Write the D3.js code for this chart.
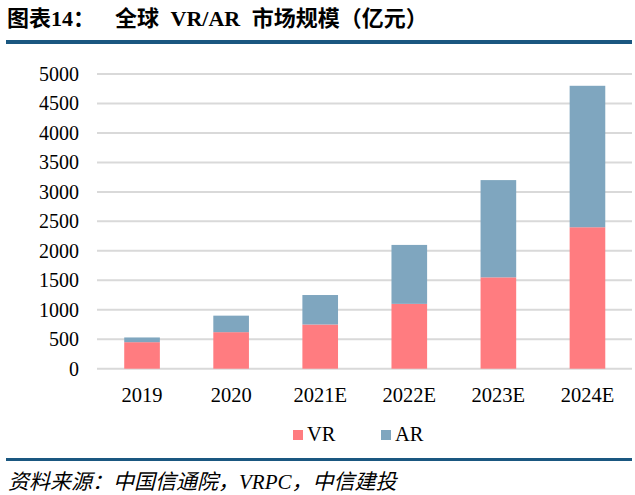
<!DOCTYPE html>
<html>
<head>
<meta charset="utf-8">
<script src="https://cdn.jsdelivr.net/npm/d3@7"></script>
<style>
  body { margin: 0; background: #fff; }
  svg { display: block; }
  text { font-family: "Liberation Serif", "Noto Sans CJK SC", serif; fill: #000; }
</style>
</head>
<body>
<svg id="chart" width="635" height="495"></svg>
<script>
var years = ["2019", "2020", "2021E", "2022E", "2023E", "2024E"],
    vr = [450, 620, 750, 1100, 1550, 2400],
    ar = [80, 280, 500, 1000, 1650, 2400],
    yTicks = [0, 500, 1000, 1500, 2000, 2500, 3000, 3500, 4000, 4500, 5000],
    seriesNames = ["VR", "AR"],
    seriesColors = ["#ff7c80", "#7fa6bf"];

var svg = d3.select("#chart");

// title and rules
svg.append("text")
    .attr("x", 7)
    .attr("y", 26)
    .attr("font-size", 22)
    .attr("font-weight", "bold")
    .text("图表14：");
svg.append("text")
    .attr("x", 115)
    .attr("y", 26)
    .attr("font-size", 22)
    .attr("font-weight", "bold")
    .attr("word-spacing", 6)
    .text("全球 VR/AR 市场规模（亿元）");
svg.append("rect")
    .attr("x", 6).attr("y", 40)
    .attr("width", 626).attr("height", 4)
    .attr("fill", "#1a5780");
svg.append("rect")
    .attr("x", 6).attr("y", 458)
    .attr("width", 626).attr("height", 3)
    .attr("fill", "#1a5780");
svg.append("text")
    .attr("x", 8)
    .attr("y", 489)
    .attr("font-size", 21)
    .attr("font-style", "italic")
    .text("资料来源：中国信通院，VRPC，中信建投");

var x = d3.scaleBand()
    .domain(years)
    .range([97.5, 632])
    .paddingInner(0.6)
    .paddingOuter(0.3);

var y = d3.scaleLinear()
    .domain([0, 5000])
    .range([368.7, 74]);

// gridlines
svg.append("g")
    .selectAll("line")
    .data(yTicks)
    .join("line")
      .attr("x1", 97)
      .attr("x2", 632)
      .attr("y1", function (d) { return y(d); })
      .attr("y2", function (d) { return y(d); })
      .attr("stroke", "#d9d9d9")
      .attr("stroke-width", 2);

// y labels
svg.append("g")
    .selectAll("text")
    .data(yTicks)
    .join("text")
      .attr("x", 79)
      .attr("y", function (d) { return y(d); })
      .attr("dy", "0.34em")
      .attr("text-anchor", "end")
      .attr("font-size", 20)
      .text(function (d) { return d; });

// stacked bars
var rows = years.map(function (yr, i) { return {year: yr, VR: vr[i], AR: ar[i]}; });
var stack = d3.stack().keys(seriesNames)(rows);

svg.append("g")
    .selectAll("g")
    .data(stack)
    .join("g")
      .attr("fill", function (d, i) { return seriesColors[i]; })
    .selectAll("rect")
    .data(function (d) { return d; })
    .join("rect")
      .attr("x", function (d) { return x(d.data.year); })
      .attr("width", x.bandwidth())
      .attr("y", function (d) { return y(d[1]); })
      .attr("height", function (d) { return y(d[0]) - y(d[1]); });

// x labels
svg.append("g")
    .selectAll("text")
    .data(years)
    .join("text")
      .attr("x", function (d) { return x(d) + x.bandwidth() / 2; })
      .attr("y", 401.5)
      .attr("text-anchor", "middle")
      .attr("font-size", 20.5)
      .text(function (d) { return d; });

// legend
var legend = svg.append("g")
    .selectAll("g")
    .data(seriesNames)
    .join("g")
      .attr("transform", function (d, i) { return "translate(" + (293 + i * 88) + ",430)"; });
legend.append("rect")
    .attr("width", 10)
    .attr("height", 10)
    .attr("fill", function (d, i) { return seriesColors[i]; });
legend.append("text")
    .attr("x", 14)
    .attr("y", 10.5)
    .attr("font-size", 20.5)
    .text(function (d) { return d; });
</script>
</body>
</html>
